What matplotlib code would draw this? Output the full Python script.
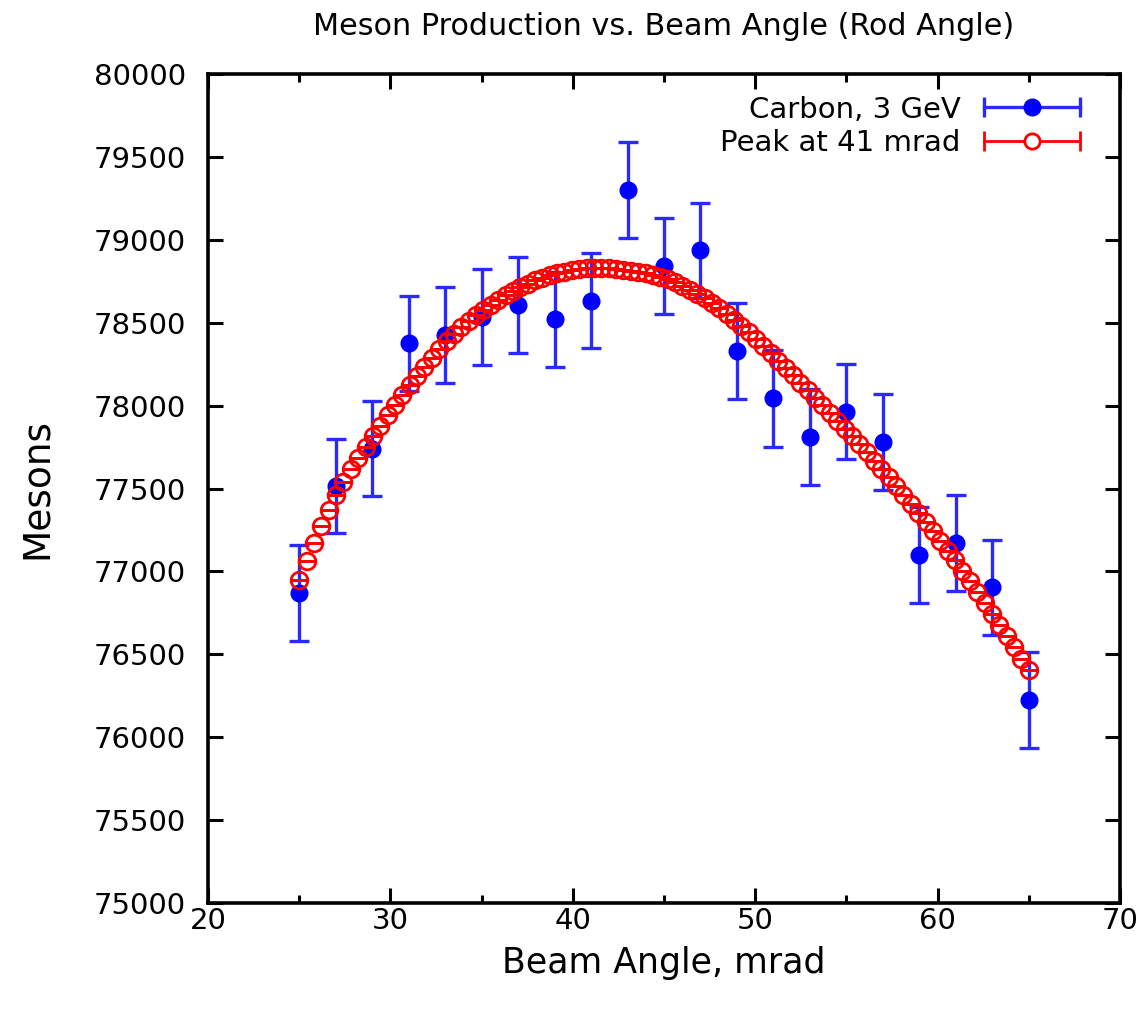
import matplotlib
matplotlib.use("Agg")
import matplotlib.pyplot as plt
from matplotlib.lines import Line2D
from matplotlib.legend_handler import HandlerLine2D, HandlerTuple
from matplotlib.ticker import MultipleLocator

plt.rcParams['font.family'] = ['DejaVu Sans']

# ---- data ----
angle = [25, 27, 29, 31, 33, 35, 37, 39, 41, 43, 45, 47, 49, 51, 53, 55, 57, 59, 61, 63, 65]
mesons = [76868, 77515, 77740, 78376, 78426, 78536, 78607, 78520, 78633, 79300, 78842,
          78938, 78331, 78044, 77813, 77963, 77782, 77099, 77173, 76904, 76224]
mesons_err = [290, 285, 285, 288, 290, 290, 290, 288, 288, 291, 288,
              286, 288, 292, 290, 287, 290, 288, 288, 285, 289]

fit_x = [25.000, 25.404, 25.808, 26.212, 26.616, 27.020, 27.424, 27.828, 28.232, 28.636,
         29.040, 29.444, 29.848, 30.253, 30.657, 31.061, 31.465, 31.869, 32.273, 32.677,
         33.081, 33.485, 33.889, 34.293, 34.697, 35.101, 35.505, 35.909, 36.313, 36.717,
         37.121, 37.525, 37.929, 38.333, 38.737, 39.141, 39.545, 39.949, 40.354, 40.758,
         41.162, 41.566, 41.970, 42.374, 42.778, 43.182, 43.586, 43.990, 44.394, 44.798,
         45.202, 45.606, 46.010, 46.414, 46.818, 47.222, 47.626, 48.030, 48.434, 48.838,
         49.242, 49.646, 50.051, 50.455, 50.859, 51.263, 51.667, 52.071, 52.475, 52.879,
         53.283, 53.687, 54.091, 54.495, 54.899, 55.303, 55.707, 56.111, 56.515, 56.919,
         57.323, 57.727, 58.131, 58.535, 58.939, 59.343, 59.747, 60.152, 60.556, 60.960,
         61.364, 61.768, 62.172, 62.576, 62.980, 63.384, 63.788, 64.192, 64.596, 65.000]
fit_y = [76950, 77061, 77172, 77275, 77370, 77464, 77541, 77617, 77687, 77752,
         77816, 77880, 77944, 78005, 78065, 78123, 78179, 78235, 78288, 78339,
         78388, 78430, 78472, 78508, 78544, 78578, 78609, 78640, 78667, 78692,
         78716, 78736, 78756, 78772, 78786, 78799, 78809, 78819, 78824, 78829,
         78831, 78830, 78828, 78823, 78818, 78812, 78805, 78798, 78787, 78776,
         78761, 78743, 78724, 78700, 78676, 78649, 78619, 78589, 78554, 78519,
         78482, 78442, 78402, 78359, 78315, 78272, 78228, 78184, 78139, 78094,
         78048, 78002, 77955, 77909, 77862, 77814, 77766, 77718, 77669, 77620,
         77568, 77516, 77463, 77408, 77353, 77297, 77241, 77184, 77125, 77066,
         77003, 76940, 76876, 76810, 76743, 76677, 76610, 76542, 76474, 76405]
fit_err = 0

title = "Meson Production vs. Beam Angle (Rod Angle)"
xlabel = "Beam Angle, mrad"
ylabel = "Mesons"
label_data = "Carbon, 3 GeV"
label_fit = "Peak at 41 mrad"

BLUE = "#0000ff"
BLUE_BAR = "#2a2aff"
RED = "#ff0000"

fig = plt.figure(figsize=(11.46, 10.10), dpi=100)
ax = fig.add_axes([0.1815, 0.1059, 0.7958, 0.8208])

ax.errorbar(angle, mesons, yerr=mesons_err, fmt='o', color=BLUE, ecolor=BLUE_BAR,
            markersize=12, elinewidth=2.4, capsize=7.5, capthick=2.4, zorder=3)
ax.errorbar(fit_x, fit_y, yerr=fit_err, fmt='o', color=RED, mfc='none', mec=RED,
            markersize=12, mew=2.0, elinewidth=1.2, capsize=5.5, capthick=1.2, zorder=4)

ax.set_xlim(20, 70)
ax.set_ylim(75000, 80000)
ax.xaxis.set_major_locator(MultipleLocator(10))
ax.xaxis.set_minor_locator(MultipleLocator(5))
ax.yaxis.set_major_locator(MultipleLocator(500))
ax.tick_params(which='both', direction='in', top=True, right=True, width=2.2, labelsize=21)
ax.tick_params(which='major', length=11)
ax.tick_params(which='minor', length=6)
ax.tick_params(axis='y', which='major', pad=16)
ax.tick_params(axis='x', which='major', pad=3)
for sp in ax.spines.values():
    sp.set_linewidth(2.6)

ax.set_title(title, fontsize=21.8, pad=28)
ax.set_xlabel(xlabel, fontsize=25, labelpad=8)
ax.set_ylabel(ylabel, fontsize=27, labelpad=28)

# legend samples in gnuplot style: line with end caps and a marker in the middle
h_blue_line = Line2D([], [], color=BLUE_BAR, lw=2.4, marker='o', markersize=12,
                     mfc=BLUE, mec=BLUE)
h_blue_caps = Line2D([], [], color=BLUE_BAR, lw=0, marker='|', markersize=14, mew=2.4)
h_red_line = Line2D([], [], color=RED, lw=2.0, marker='o', markersize=11, mfc='white',
                    mec=RED, mew=2.0)
h_red_caps = Line2D([], [], color=RED, lw=0, marker='|', markersize=14, mew=2.0)
hmap = {
    h_blue_line: HandlerLine2D(numpoints=1),
    h_red_line: HandlerLine2D(numpoints=1),
    h_blue_caps: HandlerLine2D(numpoints=2, marker_pad=0),
    h_red_caps: HandlerLine2D(numpoints=2, marker_pad=0),
    tuple: HandlerTuple(ndivide=1, pad=0),
}
leg = ax.legend([(h_blue_line, h_blue_caps), (h_red_line, h_red_caps)],
                [label_data, label_fit], handler_map=hmap, loc='upper right',
                bbox_to_anchor=(0.956, 0.974), frameon=False, markerfirst=False,
                fontsize=21, handlelength=3.3, handletextpad=0.8, labelspacing=0.2,
                borderpad=0, borderaxespad=0)

fig.savefig("out.png", dpi=100)
